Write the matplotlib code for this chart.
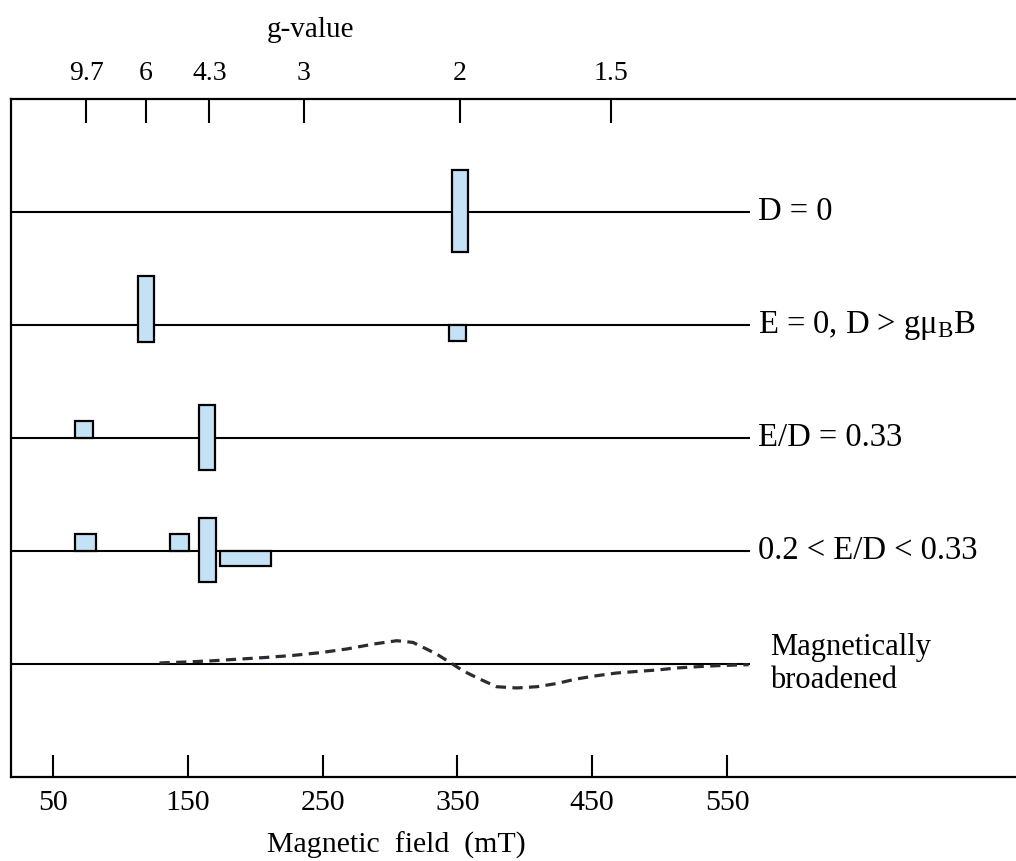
import matplotlib
matplotlib.use("Agg")
import matplotlib.pyplot as plt
import numpy as np

plt.rcParams["font.family"] = ["Liberation Serif", "DejaVu Serif"]
plt.rcParams["mathtext.fontset"] = "custom"
plt.rcParams["mathtext.rm"] = "Liberation Serif"
plt.rcParams["mathtext.it"] = "Liberation Serif:italic"

# spectrum rows, top to bottom (baseline level on the y scale)
row_labels = ["D = 0",
              "E = 0, D > gμ$_{\\mathrm{B}}$B",
              "E/D = 0.33",
              "0.2 < E/D < 0.33",
              "Magnetically\nbroadened"]
row_levels = [5, 4, 3, 2, 1]

# stick-spectrum blocks: row level, field range (mT), amplitude range
bar_row = [5, 4, 4, 3, 3, 2, 2, 2, 2]
bar_field_lo = [346, 113, 344, 66, 158, 66, 137, 158, 174]
bar_field_hi = [358, 125, 356, 80, 170, 82, 151, 171, 212]
bar_amp_lo = [-0.35, -0.15, -0.14, 0.0, -0.28, 0.0, 0.0, -0.275, -0.13]
bar_amp_hi = [0.37, 0.43, 0.0, 0.15, 0.29, 0.15, 0.15, 0.29, 0.0]

# broadened derivative trace (field in mT, amplitude)
broad_field = [129, 149, 169, 189, 208, 228, 248, 268, 288, 305, 317, 327,
               335, 345, 354, 364, 379, 394, 409, 424, 438, 453, 468, 483,
               498, 513, 528, 542, 557, 566]
broad_amp = [0.009, 0.018, 0.029, 0.044, 0.058, 0.076, 0.100, 0.133, 0.177,
             0.206, 0.191, 0.133, 0.085, 0.010, -0.059, -0.119, -0.201,
             -0.212, -0.201, -0.172, -0.133, -0.104, -0.080, -0.066, -0.053,
             -0.035, -0.024, -0.015, -0.009, -0.006]

field_ticks = [50, 150, 250, 350, 450, 550]
g_tick_labels = ["9.7", "6", "4.3", "3", "2", "1.5"]
g_tick_field = [74.5, 119, 166, 236, 352, 464]

field_min, field_max = 18.8, 764.4
line_end = 567

fig = plt.figure(figsize=(10.16, 8.61), dpi=100)
ax = fig.add_axes([11 / 1016, 1 - 777 / 861, 1005 / 1016, 678 / 861])
ax.set_xlim(field_min, field_max)
ax.set_ylim(0, 6)

ax.hlines(row_levels, field_min, line_end, color="black", lw=1.5, zorder=2)

for r, lo, hi, alo, ahi in zip(bar_row, bar_field_lo, bar_field_hi,
                               bar_amp_lo, bar_amp_hi):
    ax.bar(lo, ahi - alo, width=hi - lo, bottom=r + alo, align="edge",
           facecolor="#c3e2f6", edgecolor="black", linewidth=1.6, zorder=3)

ax.plot(broad_field, np.array(broad_amp) + row_levels[-1], color="#2b2b35",
        lw=2.3, dashes=(3.2, 2.0), zorder=3)

for lvl, lab in zip(row_levels, row_labels):
    if "\n" in lab:
        ax.text(582, lvl, lab, fontsize=22, va="center", ha="left",
                linespacing=1.2)
    else:
        ax.text(573, lvl, lab, fontsize=23.5, va="center", ha="left")

for side in ["left", "top", "bottom"]:
    ax.spines[side].set_linewidth(1.6)
ax.spines["right"].set_visible(False)

ax.set_yticks([])
ax.set_xticks(field_ticks)
ax.set_xticklabels([str(v) for v in field_ticks], fontsize=21.5)
ax.tick_params(axis="x", direction="in", length=16, width=1.5, pad=9)

top = ax.twiny()
top.set_xlim(field_min, field_max)
top.set_xticks(g_tick_field)
top.set_xticklabels(g_tick_labels, fontsize=20)
top.tick_params(axis="x", direction="in", length=17, width=1.5, pad=9)
for s in top.spines.values():
    s.set_visible(False)

fig.text(310 / 1016, 1 - 30 / 861, "g-value", fontsize=21,
         ha="center", va="center")
fig.text(396 / 1016, 1 - 845 / 861, "Magnetic  field  (mT)", fontsize=21.5,
         ha="center", va="center")

fig.savefig("out.png", dpi=100)
